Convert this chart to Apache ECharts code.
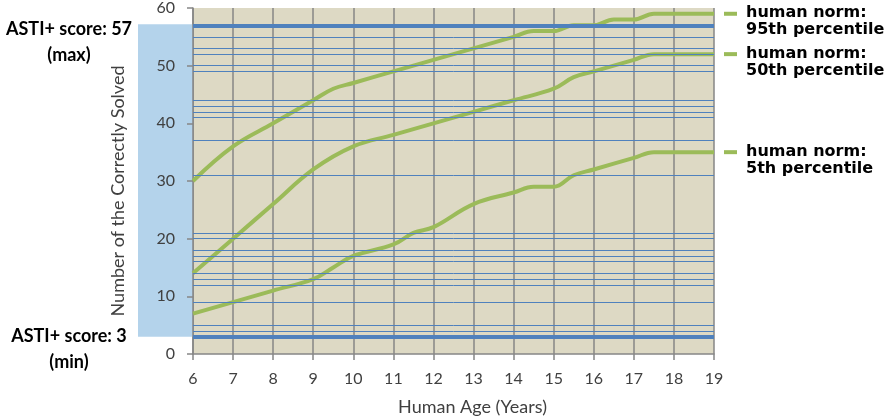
<!DOCTYPE html>
<html>
<head>
<meta charset="utf-8">
<script src="https://cdn.jsdelivr.net/npm/echarts@6/dist/echarts.min.js"></script>
<style>
  html, body { margin: 0; padding: 0; background: #fff; }
  #chart { width: 884px; height: 420px; }
</style>
</head>
<body>
<div id="chart"></div>
<script>
// ages (years) and number of correctly solved items per percentile curve
const ages95 = [6, 7, 8, 9, 9.5, 10, 11, 12, 13, 14, 14.5, 15, 15.5, 16, 16.5, 17, 17.5, 18, 19];
const p95 = [30, 36, 40, 44, 46, 47, 49, 51, 53, 55, 56, 56, 57, 57, 58, 58, 59, 59, 59];

const ages50 = [6, 7, 8, 9, 10, 11, 12, 13, 14, 15, 15.5, 16, 17, 17.5, 18, 19];
const p50 = [14, 20, 26, 32, 36, 38, 40, 42, 44, 46, 48, 49, 51, 52, 52, 52];

const ages5 = [6, 7, 8, 9, 9.5, 10, 11, 11.5, 12, 13, 14, 14.5, 15, 15.5, 16, 17, 17.5, 18, 19];
const p5 = [7, 9, 11, 13, 15, 17, 19, 21, 22, 26, 28, 29, 29, 31, 32, 34, 35, 35, 35];

// ASTI+ score levels (blue lines)
const scoreLevels = [4, 5, 9, 12, 13, 14, 16, 17, 18, 20, 21, 31, 37, 41, 42, 43, 44, 49, 50, 52, 53, 55];
const scoreMin = 3;
const scoreMax = 57;

const curveNames = ['human norm:\n95th percentile', 'human norm:\n50th percentile', 'human norm:\n5th percentile'];

const GREEN = '#9BBB59';
const BLUE = '#4F81BD';
const GRAY = '#868686';

function zip(xs, ys) {
    return xs.map((x, i) => [x, ys[i]]);
}

const curves = [zip(ages95, p95), zip(ages50, p50), zip(ages5, p5)];

const chart = echarts.init(document.getElementById('chart'), null, { renderer: 'canvas' });

const option = {
    animation: false,
    grid: {
        left: 193, right: 170, top: 8, bottom: 66,
        show: true, backgroundColor: '#DDD9C4', borderWidth: 0,
        outerBoundsMode: 'none'
    },
    xAxis: {
        type: 'value', min: 6, max: 19, interval: 1,
        name: 'Human Age (Years)', nameLocation: 'middle', nameGap: 44,
        nameTextStyle: { fontFamily: 'Lato', fontSize: 18, color: '#404040', padding: [0, 0, 0, 38] },
        axisLine: { show: true, lineStyle: { color: GRAY, width: 1.5 } },
        axisTick: { show: true, length: 6, lineStyle: { color: GRAY, width: 1.5 } },
        axisLabel: { margin: 17, fontFamily: 'Lato', fontSize: 16, color: '#404040' },
        splitLine: { show: true, lineStyle: { color: GRAY, width: 1.5 } }
    },
    yAxis: {
        type: 'value', min: 0, max: 60, interval: 10,
        name: 'Number of the Correctly Solved', nameLocation: 'middle', nameGap: 66,
        nameTextStyle: { fontFamily: 'Lato', fontSize: 18, color: '#404040', padding: [0, 20, 0, 0] },
        axisLine: { show: true, lineStyle: { color: GRAY, width: 1.5 } },
        axisTick: { show: true, length: 6, lineStyle: { color: GRAY, width: 1.5 } },
        axisLabel: { margin: 18, fontFamily: 'Lato', fontSize: 16, color: '#404040' },
        splitLine: { show: false }
    },
    series: [
        {
            type: 'line', data: [], z: 1, silent: true,
            markLine: {
                silent: true, symbol: ['none', 'none'], animation: false,
                label: { show: false },
                emphasis: { disabled: true },
                lineStyle: { color: BLUE, width: 1, type: 'solid' },
                data: scoreLevels.map(v => ({ yAxis: v }))
            }
        },
        {
            type: 'line', data: [], z: 1, silent: true,
            markLine: {
                silent: true, symbol: ['none', 'none'], animation: false,
                label: { show: false },
                emphasis: { disabled: true },
                lineStyle: { color: BLUE, width: 4, type: 'solid' },
                data: [{ yAxis: scoreMin }, { yAxis: scoreMax }]
            }
        }
    ].concat(curves.map((d, i) => ({
        name: curveNames[i],
        type: 'line',
        data: d,
        z: 3,
        smooth: 0.4,
        showSymbol: false,
        silent: true,
        lineStyle: { color: GREEN, width: 4 }
    })))
};

chart.setOption(option);

// side annotations, placed through the axis scales
const gridLeft = chart.convertToPixel({ xAxisIndex: 0 }, 6);
const gridRight = chart.convertToPixel({ xAxisIndex: 0 }, 19);
const yMax = chart.convertToPixel({ yAxisIndex: 0 }, scoreMax);
const yMin = chart.convertToPixel({ yAxisIndex: 0 }, scoreMin);

const graphics = [
    {
        type: 'rect', z: 0,
        shape: { x: 138, y: yMax - 1, width: gridLeft - 138, height: yMin - yMax + 1 },
        style: { fill: '#B4D3EB' }
    },
    {
        type: 'text', z: 10,
        style: {
            text: 'ASTI+ score: ' + scoreMax + '\n(max)', x: 69, y: yMax - 9,
            align: 'center', verticalAlign: 'top', lineHeight: 26,
            font: 'bold 18px Lato', fill: '#000'
        }
    },
    {
        type: 'text', z: 10,
        style: {
            text: 'ASTI+ score: ' + scoreMin + '\n(min)', x: 69, y: yMin - 14,
            align: 'center', verticalAlign: 'top', lineHeight: 26,
            font: 'bold 18px Lato', fill: '#000'
        }
    }
];

curves.forEach((d, i) => {
    const yEnd = chart.convertToPixel({ yAxisIndex: 0 }, d[d.length - 1][1]);
    graphics.push({
        type: 'rect', z: 10,
        shape: { x: gridRight + 10, y: yEnd - 2, width: 13, height: 4 },
        style: { fill: GREEN }
    });
    graphics.push({
        type: 'text', z: 10,
        style: {
            text: curveNames[i], x: gridRight + 32, y: yEnd - 9,
            align: 'left', verticalAlign: 'top', lineHeight: 17,
            font: 'bold 16px "DejaVu Sans"', fill: '#000'
        }
    });
});

chart.setOption({ graphic: graphics });
</script>
</body>
</html>
